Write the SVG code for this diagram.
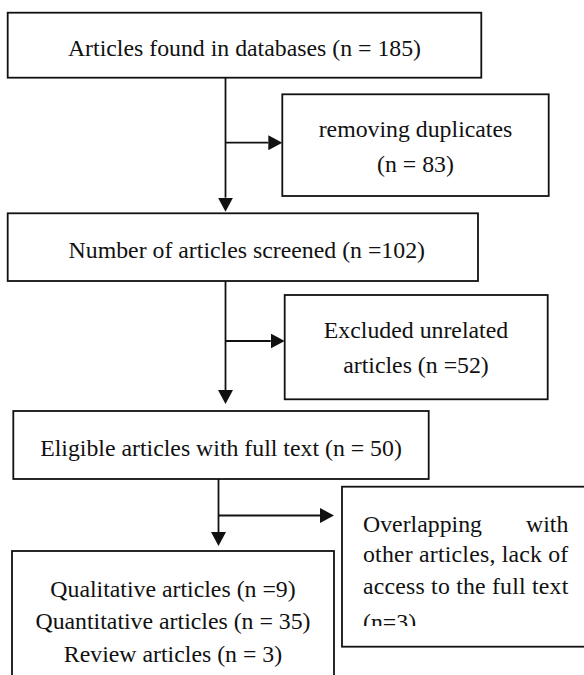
<svg xmlns="http://www.w3.org/2000/svg" width="584" height="675" viewBox="0 0 584 675">
  <style>
    .box { fill: #ffffff; stroke: #111111; stroke-width: 1.8; }
    .lbl { font-family: "Liberation Serif", "Times New Roman", serif; font-size: 23.8px; fill: #111111; }
    .mid { text-anchor: middle; }
    .conn { stroke: #111111; stroke-width: 1.8; fill: none; marker-end: url(#arrow); }
  </style>
  <defs>
    <marker id="arrow" markerUnits="userSpaceOnUse" markerWidth="15" markerHeight="15" refX="0" refY="7.5" orient="auto" viewBox="0 0 15 15">
      <path d="M0,0 L14,7.5 L0,15 z" fill="#111111"/>
    </marker>
    <clipPath id="clip6"><rect x="340" y="480" width="250" height="146"/></clipPath>
    <clipPath id="clip7"><rect x="0" y="540" width="340" height="127.5"/></clipPath>
  </defs>
  <rect x="0" y="0" width="584" height="675" fill="#ffffff"/>

  <g id="connectors">
    <line class="conn" x1="225.5" y1="77.7" x2="225.5" y2="197.7"/>
    <line class="conn" x1="225.5" y1="142.7" x2="268.3" y2="142.7"/>
    <line class="conn" x1="225.5" y1="281" x2="225.5" y2="390"/>
    <line class="conn" x1="225.5" y1="341" x2="270.7" y2="341"/>
    <line class="conn" x1="218.5" y1="479" x2="218.5" y2="532"/>
    <line class="conn" x1="218.5" y1="515.5" x2="320" y2="515.5"/>
  </g>

  <g id="node-found">
    <rect class="box" x="7.7" y="12.7" width="473.6" height="65"/>
    <text class="lbl mid" x="244.5" y="56">Articles found in databases (n = 185)</text>
  </g>

  <g id="node-duplicates">
    <rect class="box" x="282.3" y="94.3" width="266.4" height="101.7"/>
    <text class="lbl mid" x="415.5" y="137">removing duplicates</text>
    <text class="lbl mid" x="415.5" y="171.7">(n = 83)</text>
  </g>

  <g id="node-screened">
    <rect class="box" x="7.7" y="213.3" width="470.3" height="67.7"/>
    <text class="lbl mid" x="246.8" y="258">Number of articles screened (n =102)</text>
  </g>

  <g id="node-excluded">
    <rect class="box" x="284.7" y="295" width="263" height="104.3"/>
    <text class="lbl mid" x="416" y="338.3">Excluded unrelated</text>
    <text class="lbl mid" x="416" y="373.3">articles (n =52)</text>
  </g>

  <g id="node-eligible">
    <rect class="box" x="13.3" y="411" width="415.4" height="68"/>
    <text class="lbl mid" x="221" y="456">Eligible articles with full text (n = 50)</text>
  </g>

  <g id="node-overlapping">
    <rect class="box" x="342" y="486.7" width="250" height="160"/>
    <g clip-path="url(#clip6)">
      <text class="lbl" x="363" y="531.5">Overlapping</text>
      <text class="lbl" x="568.3" y="531.5" text-anchor="end">with</text>
      <text class="lbl" x="363" y="562" textLength="205.3" lengthAdjust="spacing">other articles, lack of</text>
      <text class="lbl" x="363" y="594.3" textLength="205.3" lengthAdjust="spacing">access to the full text</text>
      <text class="lbl" x="363" y="629.5">(n=3)</text>
    </g>
  </g>

  <g id="node-included">
    <rect class="box" x="12" y="551" width="322" height="140"/>
    <g clip-path="url(#clip7)">
      <text class="lbl mid" x="173" y="596.5">Qualitative articles (n =9)</text>
      <text class="lbl mid" x="173" y="628.5">Quantitative articles (n = 35)</text>
      <text class="lbl mid" x="173" y="662">Review articles (n = 3)</text>
    </g>
  </g>
</svg>
